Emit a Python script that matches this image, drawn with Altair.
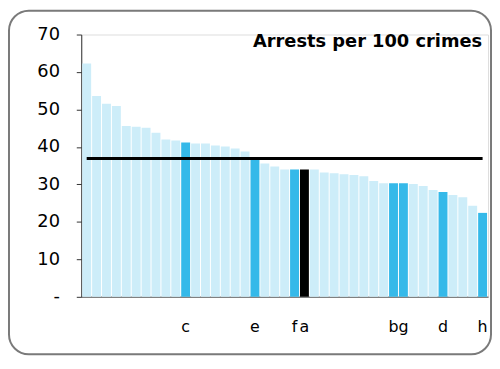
import altair as alt
import pandas as pd

# Arrests per 100 crimes, sorted descending
values = [62.3, 53.6, 51.5, 50.9, 45.6, 45.4, 45.1, 43.8, 42.0, 41.7,
          41.2, 40.9, 40.9, 40.4, 40.1, 39.6, 38.8, 36.8, 35.6, 34.8,
          34.0, 34.0, 34.0, 34.0, 33.2, 33.0, 32.7, 32.5, 32.2, 30.9,
          30.3, 30.3, 30.3, 30.1, 29.6, 28.5, 28.0, 27.2, 26.6, 24.3, 22.4]
labels = ["", "", "", "", "", "", "", "", "", "",
          "c", "", "", "", "", "", "", "e", "", "",
          "", "f", "a", "", "", "", "", "", "", "",
          "", "b", "g", "", "", "", "d", "", "", "", "h"]
average = 36.9
y_ticks = [0, 10, 20, 30, 40, 50, 60, 70]
title_text = "Arrests per 100 crimes"

groups = []
for lab in labels:
    if lab == "a":
        groups.append("black")
    elif lab:
        groups.append("highlight")
    else:
        groups.append("base")

df = pd.DataFrame({
    "idx": list(range(len(values))),
    "value": values,
    "label": labels,
    "group": groups,
    "avg": [average] * len(values),
})

label_array = "[" + ",".join("'" + l + "'" for l in labels) + "]"

FONT = "DejaVu Sans"
W, H = 411, 265
PAD = {"left": 74, "top": 25, "right": 4, "bottom": 59}

x_axis = alt.Axis(
    labelExpr=label_array + "[datum.value]",
    labelAngle=0,
    labelOverlap=False,
    ticks=False,
    domainColor="#808080",
    domainWidth=1.5,
    labelFont=FONT,
    labelFontSize=16,
    labelColor="black",
    labelBaseline="alphabetic",
    labelPadding=35,
)
x_scale = alt.Scale(paddingInner=0.1, paddingOuter=0.1)

y_axis = alt.Axis(
    values=y_ticks,
    labelExpr="datum.value == 0 ? '-\u00a0\u00a0\u00a0\u00a0\u00a0' : datum.label",
    labelOverlap=False,
    labelBound=False,
    grid=False,
    tickSize=5,
    tickColor="#333333",
    domainColor="#333333",
    labelFont=FONT,
    labelFontSize=18,
    labelColor="black",
    labelPadding=17,
)
y_scale = alt.Scale(domain=[0, 70])

bars = alt.Chart(df).mark_bar().encode(
    x=alt.X("idx:O", title=None, scale=x_scale, axis=x_axis),
    y=alt.Y("value:Q", title=None, scale=y_scale, axis=y_axis),
    color=alt.Color(
        "group:N",
        scale=alt.Scale(domain=["base", "highlight", "black"],
                        range=["#cdedf9", "#35b9e9", "#000000"]),
        legend=None,
    ),
)

avg_line = alt.Chart(df).mark_line(color="black", strokeWidth=3).encode(
    x=alt.X("idx:O", title=None, scale=x_scale, axis=x_axis),
    y=alt.Y("avg:Q", title=None, scale=y_scale, axis=y_axis),
)

deco = pd.DataFrame({"t": [title_text]})

title = alt.Chart(deco).mark_text(
    font=FONT, fontSize=18, fontWeight="bold", align="right",
    baseline="alphabetic", color="black",
).encode(
    text="t:N",
    x=alt.value(405),
    y=alt.value(13),
)

border = alt.Chart(deco).mark_rect(
    fill=None, stroke="#7a7a7a", strokeWidth=2, cornerRadius=20,
).encode(
    x=alt.value(-PAD["left"] + 1),
    x2=alt.value(W + PAD["right"] - 1),
    y=alt.value(-PAD["top"] + 1),
    y2=alt.value(H + PAD["bottom"] - 1),
)

chart = alt.layer(bars, avg_line, title, border).properties(
    width=W,
    height=H,
    autosize=alt.AutoSizeParams(type="none"),
    padding=PAD,
).configure_view(stroke=None).configure(background="white")

chart.save("out.html", embed_options={"renderer": "svg", "actions": False})
